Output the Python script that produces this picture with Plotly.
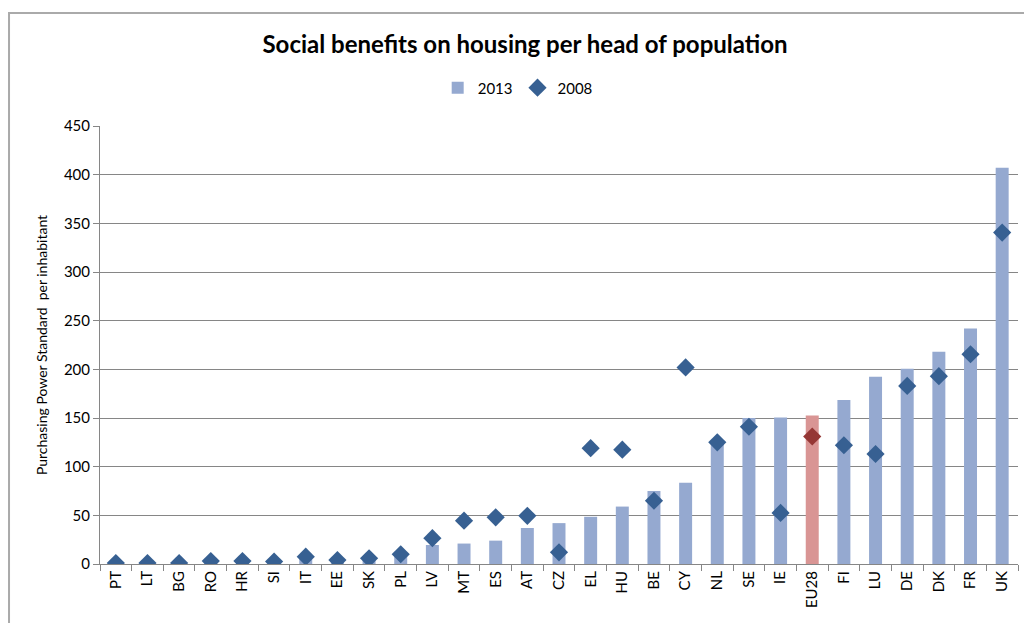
import plotly.graph_objects as go

countries = ["PT", "LT", "BG", "RO", "HR", "SI", "IT", "EE", "SK", "PL", "LV", "MT", "ES", "AT", "CZ",
             "EL", "HU", "BE", "CY", "NL", "SE", "IE", "EU28", "FI", "LU", "DE", "DK", "FR", "UK"]
v2013 = [0.3, 0.2, 0.3, 0.5, 0.5, 0.5, 7, 6, 5, 9, 19.5, 21, 24, 37, 42,
         48.5, 59, 75, 83.5, 125, 150, 150.5, 152.5, 168.5, 192.5, 200.5, 218, 242, 407]
v2008 = [1, 1, 1, 3, 3, 2.5, 7.5, 4, 5.8, 10, 26.5, 44.5, 48, 49.5, 12,
         119, 117.5, 65, 202, 125, 141, 52.5, 131, 122, 113, 183, 193, 215.5, 340.5]

bar_colors = ["#D99594" if c == "EU28" else "#95A9D0" for c in countries]
dia_colors = ["#953735" if c == "EU28" else "#376092" for c in countries]

FONT = "Lato"

fig = go.Figure()
fig.add_trace(go.Bar(x=countries, y=v2013, name="2013", marker=dict(color=bar_colors, line=dict(width=0)),
                     width=0.41))
fig.add_trace(go.Scatter(x=countries, y=v2008, name="2008", mode="markers",
                         marker=dict(symbol="diamond", size=14, color=dia_colors,
                                     line=dict(width=0))))

fig.update_layout(
    width=1024, height=623,
    margin=dict(l=100, r=6, t=126, b=59),
    paper_bgcolor="white", plot_bgcolor="white",
    font=dict(family=FONT, size=14, color="black"),
    title=dict(text="<b>Social benefits on housing per head of population</b>",
               x=0.463, xref="paper", xanchor="center", y=0.928, yanchor="middle",
               font=dict(family=FONT, size=24, color="black")),
    legend=dict(orientation="h", x=0.455, xanchor="center", xref="paper",
                y=1.087, yanchor="middle", font=dict(size=15), itemwidth=30,
                tracegroupgap=0, traceorder="normal"),
    showlegend=True,
    shapes=[dict(type="rect", xref="paper", yref="paper", x0=-0.0991, x1=1.02,
                 y0=-0.15, y1=1.258, line=dict(color="#AAAAAA", width=2), fillcolor="rgba(0,0,0,0)",
                 layer="below")],
)
fig.update_xaxes(type="category", range=[-0.5, len(countries) - 0.5], tickangle=-90,
                 tickson="boundaries", ticks="outside",
                 ticklen=6, tickcolor="#868686", showline=True, linecolor="#868686", linewidth=1,
                 showgrid=False, tickfont=dict(size=15))
fig.update_yaxes(range=[0, 450], dtick=50, showgrid=True, gridcolor="#868686", gridwidth=1,
                 ticks="outside", ticklen=6, tickcolor="#868686", showline=True,
                 linecolor="#868686", linewidth=1, zeroline=False, tickfont=dict(size=15),
                 title=dict(text="Purchasing Power Standard  per inhabitant", font=dict(size=14),
                            standoff=12))

fig.write_html("out.html")
